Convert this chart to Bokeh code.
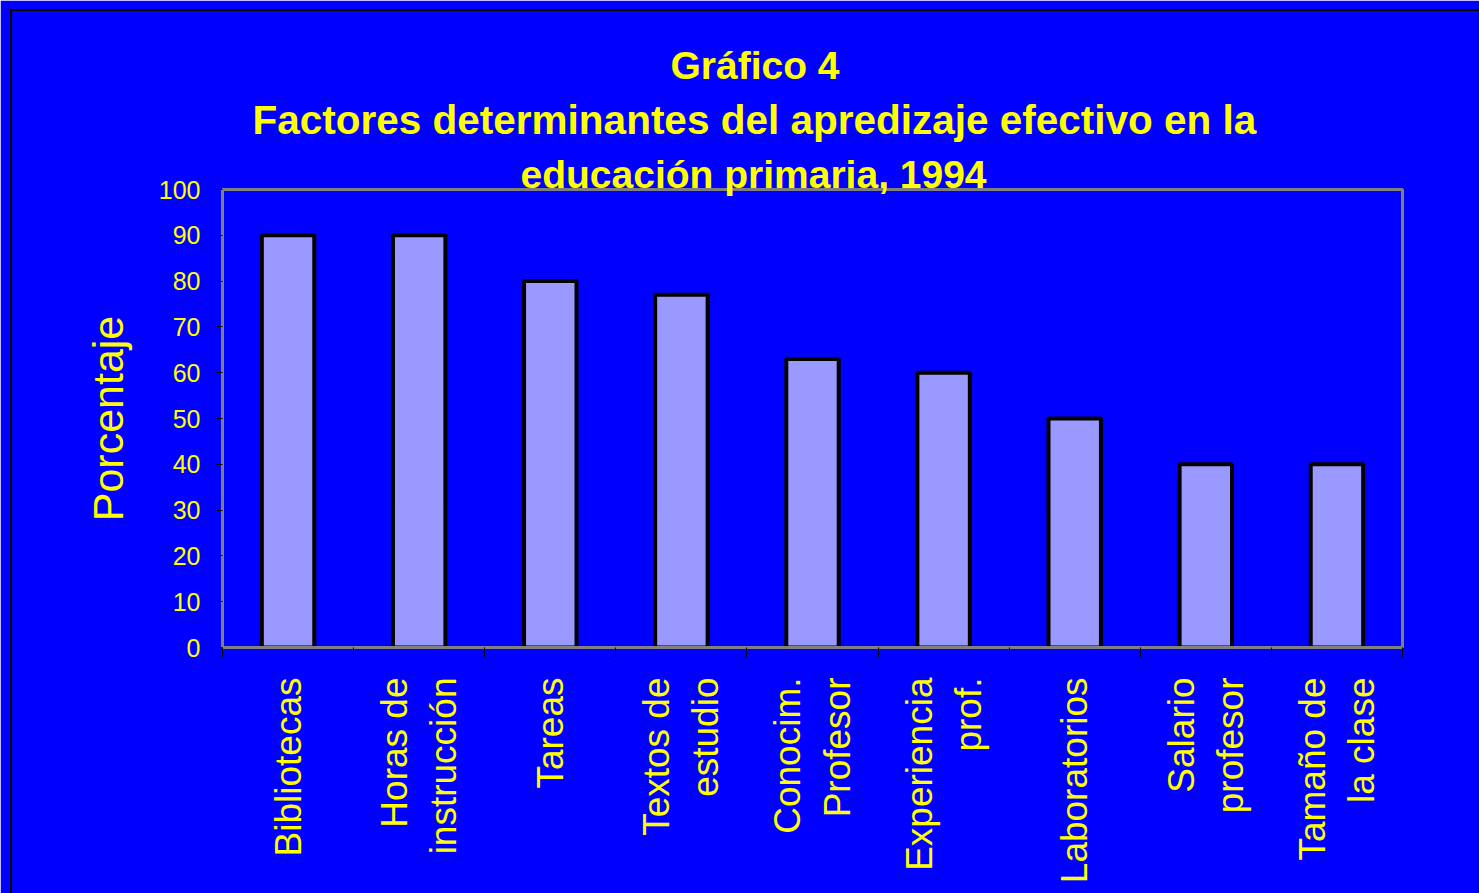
import math
from bokeh.plotting import figure
from bokeh.models import FixedTicker, Range1d, Title, InlineStyleSheet
from bokeh.embed import file_html
from bokeh.resources import INLINE

# ---- data ----
categories = [
    "Bibliotecas",
    "Horas de\ninstrucción",
    "Tareas",
    "Textos de\nestudio",
    "Conocim.\nProfesor",
    "Experiencia\nprof.",
    "Laboratorios",
    "Salario\nprofesor",
    "Tamaño de\nla clase",
]
values = [90, 90, 80, 77, 63, 60, 50, 40, 40]
y_ticks = [0, 10, 20, 30, 40, 50, 60, 70, 80, 90, 100]
title_lines = [
    "Gráfico 4",
    "Factores determinantes del apredizaje efectivo en la",
    "educación primaria, 1994",
]
y_label = "Porcentaje"

# ---- style ----
BLUE = "#0000FF"
YELLOW = "#FFFF00"
BAR = "#9999FF"
GRAY = "#808080"
FONT = "Liberation Sans"

n = len(categories)
centers = [i + 0.5 for i in range(n)]
bounds = [i for i in range(n + 1)]

kw = dict(
    width=1479, height=893,
    x_range=Range1d(0, n), y_range=Range1d(0, 100),
    output_backend="svg", toolbar_location=None,
    min_border_left=222, min_border_right=77,
    min_border_top=189, min_border_bottom=246,
    background_fill_color=BLUE, border_fill_color=BLUE,
)
try:
    p = figure(title=None, **kw)
except Exception:
    p = figure(**kw)
    p.title.visible = False

p.outline_line_color = GRAY
p.outline_line_width = 3
p.xgrid.visible = False
p.ygrid.visible = False

p.vbar(x=centers, top=values, width=0.4, bottom=0,
       fill_color=BAR, line_color="black", line_width=4)

# x axis
xa = p.xaxis[0]
xa.ticker = FixedTicker(ticks=centers, minor_ticks=bounds)
xa.major_label_overrides = {c: lab for c, lab in zip(centers, categories)}
xa.major_tick_line_color = None
xa.minor_tick_line_color = "black"
xa.minor_tick_out = 10
xa.minor_tick_in = 0
xa.minor_tick_line_width = 1
xa.axis_line_color = GRAY
xa.axis_line_width = 3
xa.major_label_orientation = math.pi / 2
xa.major_label_text_font = FONT
xa.major_label_text_font_size = "37px"
xa.major_label_text_color = YELLOW
xa.major_label_standoff = 20

# y axis
ya = p.yaxis[0]
ya.ticker = FixedTicker(ticks=y_ticks)
ya.major_tick_line_color = "black"
ya.major_tick_out = 6
ya.major_tick_in = 0
ya.minor_tick_line_color = None
ya.axis_line_color = GRAY
ya.axis_line_width = 3
ya.major_label_text_font = FONT
ya.major_label_text_font_size = "25px"
ya.major_label_text_color = YELLOW
ya.major_label_standoff = 16
ya.axis_label = y_label
ya.axis_label_text_font = FONT
ya.axis_label_text_font_size = "43px"
ya.axis_label_text_font_style = "normal"
ya.axis_label_text_color = YELLOW
ya.axis_label_standoff = 24

# title lines: nearest to the frame added first (left-aligned with offsets so
# the block is centred around x~753 like the original)
title_sizes = ["39px", "40.5px", "39px"]
title_offsets = [448, 30, 298]
title_standoffs = [-12, 28, -12]
for txt, size, off, so in reversed(list(zip(title_lines, title_sizes,
                                            title_offsets, title_standoffs))):
    t = Title(text=txt, align="left", offset=off,
              text_color=YELLOW, text_font=FONT, text_font_size=size,
              text_font_style="bold")
    try:
        t.standoff = so
    except Exception:
        t.standoff = max(so, 0)
    p.add_layout(t, "above")

# outer black frame line (left/top edges visible in the window)
try:
    p.stylesheets = [InlineStyleSheet(css=(
        ":host::after { content: ''; position: absolute; left: 10px; top: 9px;"
        " right: 0px; bottom: 0px; border-left: 2px solid black;"
        " border-top: 2px solid black; pointer-events: none; z-index: 10; }"
    ))]
except Exception:
    pass

open("out.html", "w").write(file_html(p, INLINE))
